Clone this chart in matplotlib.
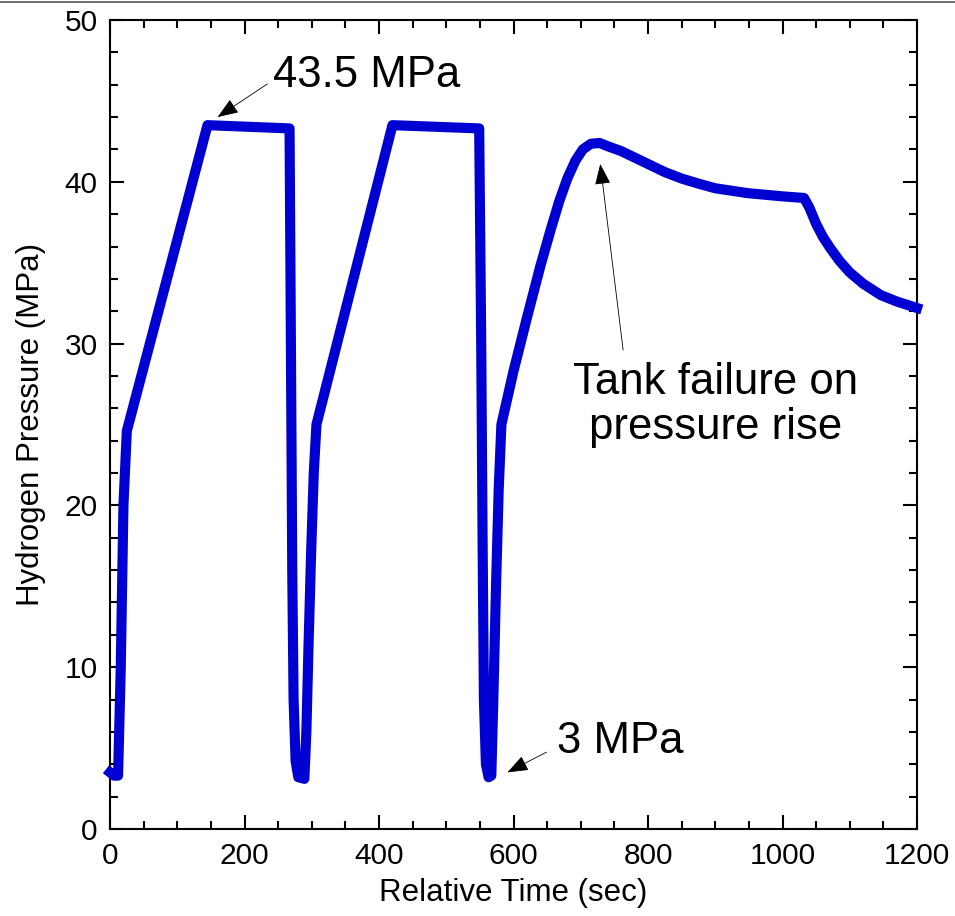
import matplotlib
matplotlib.use("Agg")
import matplotlib.pyplot as plt
from matplotlib.ticker import MultipleLocator
from matplotlib.lines import Line2D

plt.rcParams['font.family'] = ['Liberation Sans', 'DejaVu Sans']

# Data (relative time in s, hydrogen pressure in MPa)
time_s = [0, 6, 12, 16, 20, 25, 145, 267,
          269, 271, 273, 276, 280, 289, 292, 295, 299, 303, 307, 420, 549,
          552, 554, 556, 559, 563, 567, 570, 574, 578, 582,
          600, 620, 640, 655, 668, 680, 692, 703, 715, 728, 740, 760, 775,
          800, 825, 850, 874, 900, 948, 1000, 1032,
          1040, 1050, 1060, 1071, 1085, 1100, 1120, 1146, 1170, 1200]
pressure_mpa = [3.5, 3.3, 3.3, 10.0, 20.0, 24.6, 43.5, 43.3,
                30.0, 16.0, 8.0, 4.2, 3.2, 3.1, 6.0, 11.0, 17.0, 22.0, 25.0, 43.5, 43.3,
                30.0, 18.0, 8.0, 4.0, 3.2, 3.3, 8.0, 15.0, 21.0, 25.0,
                28.3, 31.6, 34.8, 37.0, 38.8, 40.2, 41.3, 42.0, 42.35, 42.4, 42.2, 41.9, 41.6,
                41.1, 40.6, 40.2, 39.9, 39.6, 39.3, 39.1, 39.0,
                38.4, 37.4, 36.6, 35.9, 35.1, 34.4, 33.7, 33.0, 32.6, 32.2]

x_ticks = [0, 200, 400, 600, 800, 1000, 1200]
y_ticks = [0, 10, 20, 30, 40, 50]

fig = plt.figure(figsize=(9.55, 9.16), dpi=100)
ax = fig.add_axes([110/955, 87/916, 807/955, 809/916])

ax.plot(time_s, pressure_mpa, color='#0000d2', lw=7.3, clip_on=False,
        solid_joinstyle='round', zorder=3)

ax.set_xlim(0, 1200)
ax.set_ylim(0, 50)
ax.set_xticks(x_ticks)
ax.set_yticks(y_ticks)
ax.xaxis.set_minor_locator(MultipleLocator(50))
ax.yaxis.set_minor_locator(MultipleLocator(2))
ax.tick_params(which='both', direction='in', top=True, right=True, width=1.5,
               labelsize=21.5, pad=9)
ax.tick_params(which='major', length=10)
ax.tick_params(which='minor', length=5.5)
for s in ax.spines.values():
    s.set_linewidth(1.5)

ax.set_xlabel('Relative Time (sec)', fontsize=22.5, labelpad=6)
ax.set_ylabel('Hydrogen Pressure (MPa)', fontsize=22.5, labelpad=13)

arrow_kw = dict(arrowstyle='-|>,head_length=1.0,head_width=0.38', color='black',
                lw=0.6, shrinkA=0, shrinkB=0, mutation_scale=13)

ax.annotate('', xy=(160, 44.0), xytext=(234, 46.05), arrowprops=arrow_kw)
ax.text(243, 46.6, '43.5 MPa', fontsize=31.5, ha='left', va='center')

ax.annotate('', xy=(591, 3.5), xytext=(649, 4.75), arrowprops=arrow_kw)
ax.text(664, 5.4, '3 MPa', fontsize=31.5, ha='left', va='center')

ax.annotate('', xy=(729, 41.1), xytext=(763, 29.6), arrowprops=arrow_kw)
ax.text(900, 26.2, 'Tank failure on\npressure rise', fontsize=31.5, ha='center',
        va='center', linespacing=1.12)

fig.add_artist(Line2D([0, 1], [1 - 1.5/916, 1 - 1.5/916], color='#555555', lw=1.2))

fig.savefig('out.png', dpi=100)
